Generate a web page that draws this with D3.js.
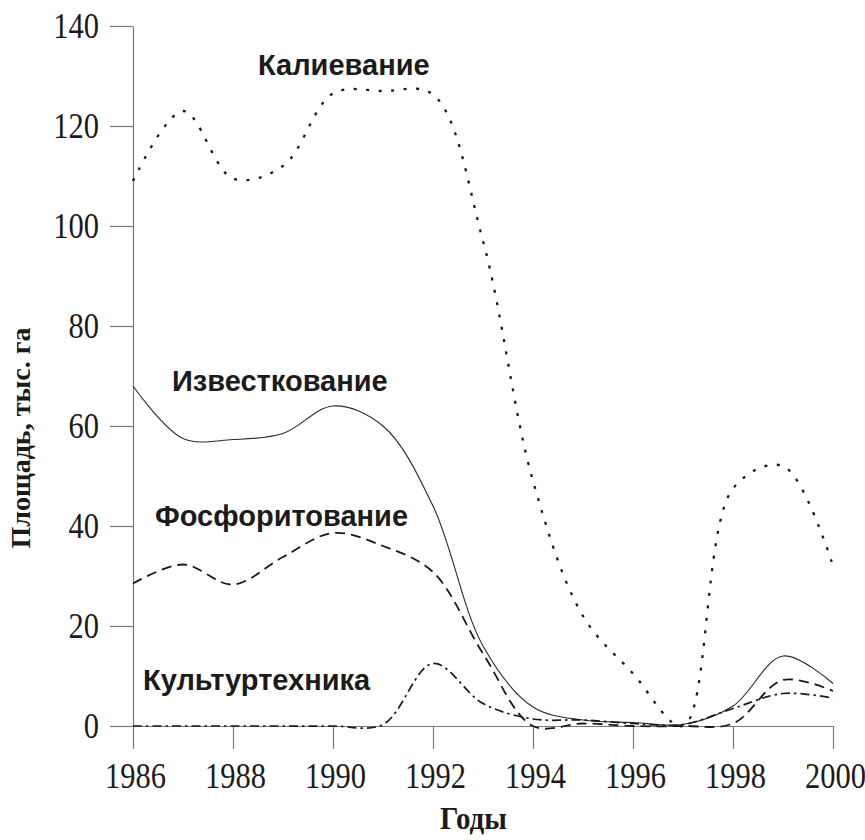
<!DOCTYPE html>
<html>
<head>
<meta charset="utf-8">
<script src="https://cdn.jsdelivr.net/npm/d3@7"></script>
<style>
  html, body { margin: 0; padding: 0; background: #fff; }
  svg { display: block; }
</style>
</head>
<body>
<div id="chart"></div>
<script>
// ---- data ----
const years = [1986, 1987, 1988, 1989, 1990, 1991, 1992, 1993, 1994, 1995, 1996, 1997, 1998, 1999, 2000];
const kalievanie      = [109, 123, 109.5, 112, 126.5, 127, 126.3, 97, 49, 22, 10.5, 0, 47.5, 52, 32];
const izvestkovanie   = [68, 57.5, 57.3, 58.5, 64, 60, 44, 16, 3.8, 1.2, 0.7, 0.3, 4, 14, 8.5];
const fosforitovanie  = [28.5, 32.3, 28.3, 33.8, 38.6, 36, 30.8, 14.5, 0, 0.5, 0, 0, 0.5, 9.2, 7];
const kulturtehnika   = [0, 0, 0, 0, 0, 0.3, 12.5, 4.5, 1.4, 1.2, 0.5, 0.3, 3.5, 6.5, 5.6];
const seriesNames = ["Калиевание", "Известкование", "Фосфоритование", "Культуртехника"];
const xTicks = [1986, 1988, 1990, 1992, 1994, 1996, 1998, 2000];
const yTicks = [0, 20, 40, 60, 80, 100, 120, 140];
const xTitle = "Годы";
const yTitle = "Площадь, тыс. га";

const W = 865, H = 840;
const svg = d3.select("#chart").append("svg").attr("width", W).attr("height", H);

const x = d3.scaleLinear().domain([1986, 2000]).range([133, 833]);
const y = d3.scaleLinear().domain([0, 140]).range([726, 26]);

const axisColor = "#7a7a7a";
const textColor = "#1b1b1b";
const serif = "'Liberation Serif', 'Times New Roman', serif";
const sans = "'Liberation Sans', Arial, sans-serif";

// y axis
const gy = svg.append("g").attr("transform", `translate(${x(1986)},0)`)
  .call(d3.axisLeft(y).tickValues(yTicks).tickSize(23).tickSizeOuter(0).tickFormat(d3.format("d")));
gy.select(".domain").attr("stroke", axisColor);
gy.selectAll(".tick line").attr("stroke", axisColor);
gy.selectAll(".tick text")
  .attr("x", null).attr("dy", null).attr("y", null)
  .attr("transform", "translate(-34,11.5) scale(1,1.18)")
  .attr("text-anchor", "end")
  .style("font-family", serif).style("font-size", "30.5px").attr("fill", textColor);

// x axis
const gx = svg.append("g").attr("transform", `translate(0,${y(0)})`)
  .call(d3.axisBottom(x).tickValues(xTicks).tickSize(23).tickSizeOuter(0).tickFormat(d3.format("d")));
gx.select(".domain").attr("stroke", axisColor);
gx.selectAll(".tick line").attr("stroke", axisColor);
gx.selectAll(".tick text")
  .attr("y", null).attr("dy", null)
  .attr("transform", "translate(2,62) scale(1,1.2)")
  .style("font-family", serif).style("font-size", "30.5px").attr("fill", textColor);
svg.selectAll(".domain").attr("stroke-width", 1.2);
svg.selectAll(".tick line").attr("stroke-width", 1.2);

// lines
const line = d3.line().x((d, i) => x(years[i])).y(d => y(d)).curve(d3.curveCatmullRom.alpha(0.5));
const series = [
  { name: seriesNames[0], values: kalievanie, dash: "3,9.5", width: 2.3, color: "#1a1a1a" },
  { name: seriesNames[1], values: izvestkovanie, dash: null, width: 1.1, color: "#2a2a2a" },
  { name: seriesNames[2], values: fosforitovanie, dash: "10,6", width: 1.8, color: "#1a1a1a" },
  { name: seriesNames[3], values: kulturtehnika, dash: "9,4,2.5,4", width: 1.7, color: "#1a1a1a" }
];
series.forEach(s => {
  svg.append("path").attr("d", line(s.values))
    .attr("fill", "none").attr("stroke", s.color).attr("stroke-width", s.width)
    .attr("stroke-dasharray", s.dash);
});

// series labels
const labelPos = [
  { x: 258, y: 75 },
  { x: 172, y: 391 },
  { x: 155, y: 526 },
  { x: 143, y: 690 }
];
seriesNames.forEach((n, i) => {
  svg.append("text").attr("x", labelPos[i].x).attr("y", labelPos[i].y)
    .text(n).style("font-family", sans).style("font-weight", "bold").style("font-size", "29px")
    .attr("fill", textColor);
});

// axis titles
svg.append("text")
  .attr("transform", "translate(440,829) scale(1,1.1)")
  .text(xTitle).style("font-family", serif).style("font-weight", "bold").style("font-size", "29px")
  .attr("fill", textColor);
svg.append("text")
  .attr("transform", "translate(30,438) rotate(-90)")
  .attr("text-anchor", "middle")
  .text(yTitle).style("font-family", serif).style("font-weight", "bold").style("font-size", "28px")
  .attr("fill", textColor);
</script>
</body>
</html>
